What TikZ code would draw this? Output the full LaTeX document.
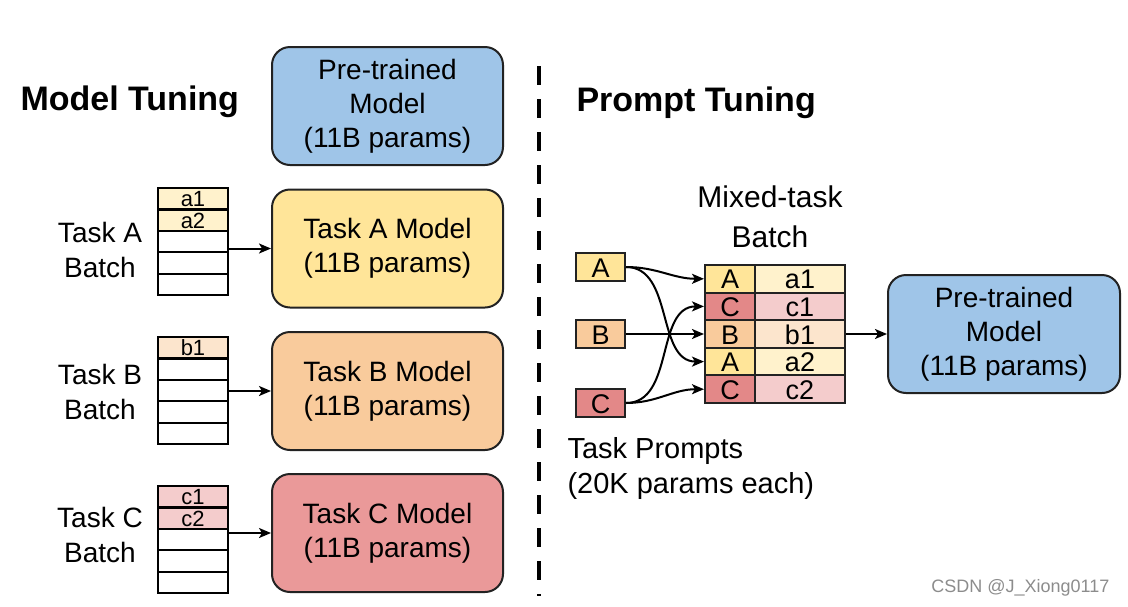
\documentclass[tikz,border=0pt]{standalone}
\usepackage{fontspec}
\setsansfont{Liberation Sans}
\usetikzlibrary{arrows.meta}

\definecolor{ptblue}{HTML}{9FC5E8}
\definecolor{taskA}{HTML}{FFE599}
\definecolor{taskB}{HTML}{F9CB9C}
\definecolor{taskC}{HTML}{EA9999}
\definecolor{promptC}{HTML}{E38888}
\definecolor{lightA}{HTML}{FFF2CC}
\definecolor{lightB}{HTML}{FCE5CD}
\definecolor{lightC}{HTML}{F4CCCC}
\definecolor{edge}{HTML}{222222}

\newcommand{\fs}[1]{\fontsize{#1}{#1}\selectfont}

\begin{document}
\begin{tikzpicture}[x=1pt, y=-1pt, font=\sffamily,
  model/.style={draw=edge, line width=2pt, rounded corners=18pt,
    minimum width=231pt, minimum height=118pt, align=center,
    font=\sffamily\fontsize{28}{34}\selectfont},
  cell/.style={draw=black, line width=2.2pt, minimum width=70pt,
    minimum height=21.4pt, inner sep=0pt, text height=16pt, text depth=0pt,
    font=\sffamily\fs{22}},
  tcell/.style={draw=edge, line width=2pt, minimum height=27.6pt,
    inner sep=0pt, text height=20pt, text depth=0pt, font=\sffamily\fs{27}},
  prompt/.style={tcell, minimum width=49pt, minimum height=28pt},
  label/.style={align=center, font=\sffamily\fontsize{28}{35}\selectfont},
  arr/.style={line width=2pt, -{Stealth[length=12pt, width=10pt, inset=3pt]}}]

\useasboundingbox (0,0) rectangle (1128,606);

% Titles
\node[anchor=base west, font=\sffamily\bfseries\fs{34}] (mt) at (17,110) {Model Tuning};
\node[anchor=base west, font=\sffamily\bfseries\fs{34}] (pt) at (573,111) {Prompt Tuning};

% Divider
\draw[line width=4pt, dash pattern=on 19pt off 14pt] (539,66) -- (539,596);

% Model tuning boxes
\node[model, fill=ptblue] (pre) at (387.5,106) {Pre-trained\\Model\\(11B params)};
\node[model, fill=taskA] (mA) at (387.5,248.5) {Task A Model\\(11B params)};
\node[model, fill=taskB] (mB) at (387.5,391) {Task B Model\\(11B params)};
\node[model, fill=taskC] (mC) at (387.5,533) {Task C Model\\(11B params)};

% Batches
\node[label] (lA) at (100,250) {Task A\\Batch};
\node[label] (lB) at (100,392) {Task B\\Batch};
\node[label] (lC) at (100,535) {Task C\\Batch};

\foreach \i/\t/\c in {1/a1/lightA, 2/a2/lightA, 3//white, 4//white, 5//white}
  \node[cell, fill=\c] (sa\i) at (193,177.3+21.4*\i) {\t};
\foreach \i/\t/\c in {1/b1/lightB, 2//white, 3//white, 4//white, 5//white}
  \node[cell, fill=\c] (sb\i) at (193,326.3+21.4*\i) {\t};
\foreach \i/\t/\c in {1/c1/lightC, 2/c2/lightC, 3//white, 4//white, 5//white}
  \node[cell, fill=\c] (sc\i) at (193,475.3+21.4*\i) {\t};

\draw[arr] (mA.west -| sa3.east) -- (mA.west);
\draw[arr] (mB.west -| sb3.east) -- (mB.west);
\draw[arr] (mC.west -| sc3.east) -- (mC.west);

% Prompt tuning
\node[align=center, font=\sffamily\fontsize{30}{40}\selectfont] (mix) at (770,217) {Mixed-task\\Batch};

\node[prompt, fill=taskA] (pA) at (600.5,267) {A};
\node[prompt, fill=taskB] (pB) at (600.5,334) {B};
\node[prompt, fill=promptC] (pC) at (600.5,403) {C};

\foreach \i/\l/\r/\cl/\cr in {1/A/a1/taskA/lightA, 2/C/c1/promptC/lightC,
    3/B/b1/taskB/lightB, 4/A/a2/taskA/lightA, 5/C/c2/promptC/lightC} {
  \node[tcell, minimum width=50pt, fill=\cl] (ml\i) at (730,251.2+27.6*\i) {\l};
  \node[tcell, minimum width=90pt, fill=\cr] (mr\i) at (800,251.2+27.6*\i) {\r};
}

\node[model, fill=ptblue, minimum width=232pt] (ptm) at (1004,334) {Pre-trained\\Model\\(11B params)};

\draw[arr] (pA.east) to[out=0, in=180] (ml1.west);
\draw[arr] (pA.east) to[out=0, in=180] (ml4.west);
\draw[arr] (pB.east) -- (ml3.west);
\draw[arr] (pC.east) to[out=0, in=180] (ml2.west);
\draw[arr] (pC.east) to[out=0, in=180] (ml5.west);
\draw[arr] (mr3.east) -- (ptm.west);

\node[anchor=west, align=left, font=\sffamily\fontsize{29}{35}\selectfont] (tp) at (564,468) {Task Prompts\\(20K params each)};

% Watermark
\node[anchor=base east, text=black!45, font=\sffamily\fs{18}] (wm) at (1113,592) {CSDN @J\_Xiong0117};

\end{tikzpicture}
\end{document}
